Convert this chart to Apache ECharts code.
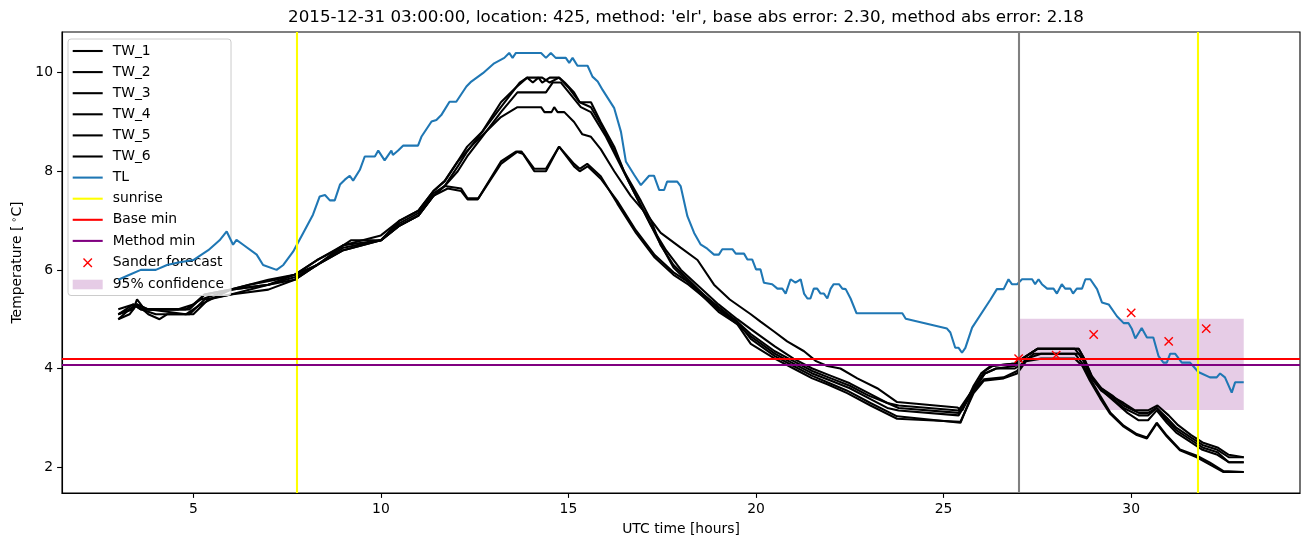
<!DOCTYPE html>
<html><head><meta charset="utf-8">
<script src="https://cdn.jsdelivr.net/npm/echarts@6/dist/echarts.min.js"></script>
<style>html,body{margin:0;padding:0;background:#fff}#c{width:1310px;height:547px}</style>
</head><body><div id="c"></div>
<script>
const chartTitle = "2015-12-31 03:00:00, location: 425, method: 'elr', base abs error: 2.30, method abs error: 2.18";
const xTicks = [5, 10, 15, 20, 25, 30];
const yTicks = [2, 4, 6, 8, 10];

const tw1 = [[3,5.0],[3.3,5.2],[3.5,5.3],[3.8,5.2],[4.8,5.2],[5.2,5.4],[6,5.6],[7,5.7],[7.7,5.9],[8.3,6.2],[8.8,6.4],[9.2,6.6],[10,6.6],[10.5,7.0],[11,7.2],[11.4,7.6],[11.7,7.8],[12.05,8.2],[12.3,8.5],[12.7,8.8],[13.2,9.3],[13.7,9.8],[13.9,9.9],[14.05,9.8],[14.2,9.9],[14.3,9.8],[14.5,9.9],[14.75,9.9],[14.9,9.8],[15.15,9.6],[15.3,9.4],[15.6,9.4],[15.86,9.0],[16.22,8.5],[16.48,8.0],[16.93,7.4],[17.2,7.0],[17.46,6.5],[17.8,6.1],[18.2,5.8],[18.6,5.5],[19.0,5.2],[19.5,4.95],[19.86,4.7],[20.5,4.35],[21.0,4.15],[21.5,3.95],[22.0,3.8],[22.5,3.65],[23.0,3.45],[23.5,3.3],[23.8,3.25],[25.4,3.15],[25.8,3.6],[26.1,3.95],[26.3,4.05],[26.9,4.1],[27.1,4.2],[27.5,4.4],[28.6,4.4],[28.75,4.2],[28.9,3.85],[29.2,3.6],[29.5,3.45],[29.8,3.25],[30.2,3.1],[30.45,3.1],[30.68,3.2],[30.95,3.0],[31.2,2.8],[31.6,2.6],[31.9,2.45],[32.3,2.35],[32.6,2.2],[33,2.2]];
const tw2 = [[3,5.1],[3.4,5.2],[3.5,5.4],[3.7,5.2],[4.9,5.2],[5.3,5.5],[6,5.6],[7,5.8],[7.7,5.9],[8.3,6.1],[9,6.5],[10,6.6],[10.5,6.9],[11,7.1],[11.4,7.5],[11.7,7.7],[12.05,8.1],[12.3,8.4],[12.7,8.8],[13.2,9.4],[13.6,9.7],[13.9,9.9],[14.3,9.9],[14.5,9.8],[14.75,9.9],[15.0,9.7],[15.3,9.4],[15.6,9.3],[15.9,8.9],[16.3,8.3],[16.6,7.8],[17.0,7.2],[17.4,6.6],[17.8,6.05],[18.2,5.75],[18.6,5.45],[19.0,5.15],[19.5,4.9],[19.86,4.65],[20.5,4.3],[21.0,4.1],[21.5,3.9],[22.0,3.75],[22.5,3.6],[23.0,3.4],[23.5,3.2],[23.8,3.15],[25.4,3.05],[25.8,3.55],[26.1,3.9],[26.4,4.0],[26.9,4.05],[27.1,4.2],[27.5,4.4],[28.5,4.4],[28.7,4.2],[28.9,3.85],[29.2,3.55],[29.5,3.4],[29.8,3.2],[30.2,3.05],[30.45,3.05],[30.68,3.2],[30.95,2.95],[31.2,2.75],[31.6,2.55],[31.9,2.4],[32.3,2.3],[32.6,2.1],[33,2.1]];
const tw3 = [[3,5.1],[3.4,5.3],[3.6,5.2],[4.0,5.1],[4.9,5.1],[5.3,5.4],[6,5.5],[7,5.7],[7.7,5.8],[8.3,6.1],[9,6.4],[10,6.6],[10.5,6.9],[11,7.1],[11.4,7.5],[11.7,7.7],[12.05,8.0],[12.3,8.3],[12.7,8.7],[13.2,9.2],[13.64,9.6],[14.4,9.6],[14.58,9.8],[14.8,9.8],[15.33,9.3],[15.6,9.2],[16.0,8.7],[16.4,8.1],[16.8,7.5],[17.2,6.9],[17.6,6.4],[18.0,6.0],[18.5,5.65],[19.0,5.3],[19.5,5.0],[19.86,4.8],[20.5,4.45],[21.0,4.2],[21.5,4.0],[22.0,3.85],[22.5,3.7],[23.0,3.5],[23.5,3.3],[23.8,3.2],[25.4,3.1],[25.8,3.6],[26.1,3.9],[26.4,4.0],[26.9,4.0],[27.1,4.1],[27.4,4.3],[28.6,4.3],[28.8,4.1],[29.0,3.75],[29.3,3.5],[29.6,3.3],[29.9,3.1],[30.2,2.95],[30.45,2.95],[30.68,3.15],[30.95,2.9],[31.2,2.7],[31.6,2.5],[31.9,2.35],[32.3,2.25],[32.6,2.1],[33,2.1]];
const tw4 = [[3,5.2],[3.4,5.3],[3.6,5.2],[4.6,5.2],[5.0,5.3],[5.3,5.5],[6,5.6],[6.5,5.7],[7.2,5.8],[7.7,5.9],[8.3,6.2],[9,6.5],[10,6.7],[10.5,7.0],[11,7.2],[11.4,7.6],[11.7,7.8],[12.05,8.2],[12.4,8.5],[12.8,8.8],[13.2,9.1],[13.64,9.3],[14.27,9.3],[14.36,9.2],[14.55,9.2],[14.62,9.3],[14.71,9.2],[14.89,9.2],[15.15,9.0],[15.37,8.75],[15.6,8.7],[15.86,8.45],[16.22,8.0],[16.66,7.5],[17.11,7.1],[17.46,6.75],[17.99,6.45],[18.44,6.2],[18.88,5.7],[19.3,5.4],[19.86,5.1],[20.12,4.95],[20.48,4.75],[20.83,4.55],[21.28,4.35],[21.6,4.15],[21.9,4.05],[22.25,4.0],[22.7,3.8],[23.23,3.6],[23.76,3.32],[25.36,3.21],[25.5,3.15],[25.8,3.65],[26.0,3.9],[26.25,4.05],[26.9,4.1],[27.1,4.2],[27.5,4.4],[28.6,4.4],[28.75,4.2],[28.95,3.85],[29.2,3.6],[29.45,3.45],[29.8,3.3],[30.1,3.15],[30.45,3.15],[30.7,3.25],[31.0,3.05],[31.25,2.85],[31.6,2.65],[31.9,2.5],[32.3,2.4],[32.6,2.25],[33,2.2]];
const tw5 = [[3,5.0],[3.3,5.1],[3.5,5.3],[3.8,5.1],[4.1,5.0],[4.3,5.1],[5.0,5.1],[5.4,5.4],[6,5.5],[7,5.6],[7.7,5.8],[8.3,6.1],[9,6.4],[10,6.6],[10.5,6.9],[11,7.1],[11.4,7.5],[11.78,7.65],[12.14,7.6],[12.31,7.43],[12.58,7.43],[13.2,8.15],[13.64,8.4],[13.75,8.4],[14.09,8.0],[14.4,8.0],[14.75,8.5],[15.15,8.1],[15.3,8.0],[15.51,8.1],[15.86,7.85],[16.3,7.4],[16.8,6.8],[17.3,6.3],[17.8,5.95],[18.2,5.75],[18.6,5.5],[19.0,5.25],[19.5,4.95],[19.86,4.6],[20.5,4.25],[21.0,4.05],[21.5,3.85],[21.9,3.72],[22.43,3.55],[23.05,3.3],[23.76,3.03],[25.45,2.9],[25.8,3.55],[26.07,3.78],[26.6,3.82],[26.96,3.95],[27.2,4.2],[27.6,4.3],[28.5,4.3],[28.7,4.1],[28.9,3.8],[29.17,3.45],[29.44,3.11],[29.8,2.84],[30.15,2.67],[30.42,2.6],[30.68,2.9],[30.95,2.64],[31.3,2.36],[31.75,2.23],[32.1,2.09],[32.46,1.92],[33,1.9]];
const tw6 = [[3,5.1],[3.3,5.2],[3.5,5.3],[3.8,5.2],[4.8,5.1],[5.2,5.3],[6,5.6],[7,5.7],[7.7,5.85],[8.3,6.1],[9,6.45],[10,6.6],[10.5,6.95],[11,7.15],[11.4,7.55],[11.7,7.7],[12.14,7.65],[12.31,7.45],[12.6,7.45],[13.2,8.2],[13.6,8.4],[13.8,8.35],[14.09,8.05],[14.4,8.05],[14.75,8.5],[15.15,8.15],[15.3,8.05],[15.5,8.15],[15.86,7.9],[16.3,7.35],[16.8,6.75],[17.3,6.25],[17.8,5.9],[18.2,5.7],[18.6,5.45],[19.0,5.2],[19.5,4.9],[19.86,4.5],[20.5,4.2],[21.0,4.0],[21.5,3.8],[21.9,3.68],[22.43,3.5],[23.05,3.25],[23.76,2.98],[25.45,2.92],[25.8,3.5],[26.07,3.75],[26.6,3.8],[26.96,3.9],[27.2,4.15],[27.6,4.2],[28.5,4.2],[28.7,4.05],[28.9,3.75],[29.17,3.4],[29.44,3.08],[29.8,2.82],[30.15,2.65],[30.42,2.58],[30.68,2.88],[30.95,2.62],[31.3,2.34],[31.75,2.2],[32.1,2.05],[32.46,1.9],[33,1.9]];
const tl = [[3,5.8],[3.3,5.9],[3.6,6.0],[4.0,6.0],[4.3,6.1],[4.6,6.15],[5.0,6.2],[5.4,6.4],[5.7,6.6],[5.89,6.78],[6.06,6.51],[6.15,6.61],[6.33,6.51],[6.69,6.31],[6.86,6.1],[7.22,6.0],[7.40,6.1],[7.66,6.37],[7.93,6.75],[8.19,7.12],[8.37,7.49],[8.51,7.52],[8.64,7.41],[8.77,7.41],[8.91,7.73],[9.04,7.83],[9.17,7.91],[9.26,7.81],[9.44,8.03],[9.57,8.30],[9.84,8.30],[9.93,8.42],[10.10,8.22],[10.28,8.42],[10.32,8.33],[10.46,8.42],[10.59,8.52],[10.99,8.52],[11.08,8.70],[11.35,9.01],[11.48,9.04],[11.61,9.14],[11.83,9.41],[12.01,9.41],[12.28,9.72],[12.41,9.82],[12.72,9.99],[13.02,10.19],[13.29,10.3],[13.42,10.4],[13.51,10.3],[13.60,10.4],[14.27,10.4],[14.40,10.3],[14.53,10.4],[14.66,10.3],[14.93,10.3],[15.02,10.2],[15.11,10.3],[15.24,10.14],[15.51,10.14],[15.64,9.92],[15.78,9.82],[15.91,9.65],[16.22,9.28],[16.40,8.80],[16.53,8.20],[16.75,7.93],[16.93,7.72],[17.15,7.91],[17.28,7.91],[17.42,7.62],[17.55,7.62],[17.63,7.79],[17.90,7.79],[17.99,7.7],[18.17,7.09],[18.35,6.75],[18.52,6.52],[18.70,6.43],[18.88,6.31],[19.01,6.31],[19.10,6.42],[19.37,6.42],[19.46,6.33],[19.68,6.33],[19.77,6.21],[19.9,6.21],[20.0,6.01],[20.12,6.01],[20.21,5.74],[20.43,5.71],[20.57,5.62],[20.70,5.62],[20.79,5.52],[20.92,5.81],[21.05,5.74],[21.19,5.81],[21.28,5.52],[21.37,5.42],[21.45,5.42],[21.54,5.62],[21.63,5.62],[21.72,5.52],[21.81,5.52],[21.90,5.42],[21.99,5.62],[22.07,5.71],[22.21,5.71],[22.30,5.62],[22.39,5.61],[22.52,5.42],[22.68,5.12],[23.90,5.12],[23.99,5.01],[25.09,4.81],[25.18,4.73],[25.31,4.42],[25.40,4.42],[25.49,4.32],[25.58,4.42],[25.76,4.83],[26.25,5.40],[26.42,5.61],[26.60,5.61],[26.73,5.81],[26.82,5.71],[26.96,5.71],[27.09,5.81],[27.36,5.81],[27.44,5.71],[27.53,5.81],[27.62,5.71],[27.76,5.62],[27.93,5.62],[28.02,5.52],[28.15,5.71],[28.24,5.62],[28.38,5.62],[28.45,5.52],[28.55,5.62],[28.69,5.62],[28.78,5.81],[28.91,5.81],[29.09,5.61],[29.22,5.34],[29.40,5.30],[29.62,5.06],[29.80,4.92],[29.93,4.92],[30.02,4.80],[30.11,4.61],[30.28,4.82],[30.42,4.63],[30.59,4.63],[30.73,4.25],[30.86,4.12],[30.95,4.12],[31.04,4.30],[31.17,4.30],[31.35,4.12],[31.57,4.12],[31.79,3.93],[32.10,3.82],[32.28,3.82],[32.37,3.90],[32.50,3.82],[32.68,3.51],[32.77,3.72],[33,3.72]];

const sanderHours = [27, 28, 29, 30, 31, 32];
const sanderTemps = [4.2, 4.27, 4.69, 5.13, 4.55, 4.81];
const sunriseHours = [7.77, 31.78];
const forecastHour = 27;
const baseMin = 4.2;
const methodMin = 4.08;
const confHours = [27, 33];
const confTemps = [3.16, 5.01];

const FONT = 'DejaVu Sans';
const LW = 2.08;
const twSeries = [tw1, tw2, tw3, tw4, tw5, tw6].map((d, i) => ({
  name: 'TW_' + (i + 1), type: 'line', data: d, showSymbol: false, z: 3,
  lineStyle: { color: '#000000', width: LW }, itemStyle: { color: '#000000' }
}));

const lineIcon = 'path://M0,0 M35,14 M0,5.96 L30,5.96 L30,8.04 L0,8.04 Z';
const xIcon = 'path://M0,0 M35,14 M10.8,2.8 L19.2,11.2 M19.2,2.8 L10.8,11.2';
const patchIcon = 'path://M0,0 M35,14 M0,2.2 L30,2.2 L30,11.8 L0,11.8 Z';
function lineLegend(name, color) {
  return { name, icon: lineIcon, itemStyle: { color, borderWidth: 0 } };
}
function vline(color, values, key) {
  return { silent: true, symbol: ['none', 'none'], label: { show: false },
    lineStyle: { color, width: LW, type: 'solid' },
    data: values.map(v => ({ [key]: v })) };
}

const chart = echarts.init(document.getElementById('c'));
chart.setOption({
  animation: false,
  backgroundColor: '#ffffff',
  title: {
    text: chartTitle, left: 681, top: 4, textAlign: 'center',
    textStyle: { fontFamily: FONT, fontSize: 16.7, fontWeight: 'normal', color: '#000' }
  },
  grid: { left: 62, right: 10, top: 32, bottom: 54, show: true, borderColor: '#000', borderWidth: 1.1, backgroundColor: 'transparent' },
  legend: {
    orient: 'vertical', left: 68, top: 39,
    padding: [5, 7, 4, 4], itemGap: 7.1, itemWidth: 35, itemHeight: 14,
    backgroundColor: 'rgba(255,255,255,0.8)', borderColor: '#cccccc', borderWidth: 1, borderRadius: 3,
    textStyle: { fontFamily: FONT, fontSize: 13.9, color: '#000' },
    selectedMode: false,
    data: [
      lineLegend('TW_1', '#000'), lineLegend('TW_2', '#000'), lineLegend('TW_3', '#000'),
      lineLegend('TW_4', '#000'), lineLegend('TW_5', '#000'), lineLegend('TW_6', '#000'),
      lineLegend('TL', '#1f77b4'), lineLegend('sunrise', '#ffff00'),
      lineLegend('Base min', '#ff0000'), lineLegend('Method min', '#800080'),
      { name: 'Sander forecast', icon: xIcon, itemStyle: { color: '#ff0000', borderColor: '#ff0000', borderWidth: 1.4 } },
      { name: '95% confidence', icon: patchIcon, itemStyle: { color: 'rgba(128,0,128,0.2)', borderWidth: 0 } }
    ]
  },
  xAxis: {
    type: 'value', min: 1.5, max: 34.5,
    name: 'UTC time [hours]', nameLocation: 'middle', nameGap: 29,
    nameTextStyle: { fontFamily: FONT, fontSize: 13.9, color: '#000' },
    axisLine: { show: true, onZero: false, lineStyle: { color: '#000', width: 1.1 } },
    axisTick: { show: true, length: 4.9, lineStyle: { color: '#000', width: 1.1 }, customValues: xTicks },
    axisLabel: { fontFamily: FONT, fontSize: 13.9, color: '#000', margin: 9, customValues: xTicks },
    splitLine: { show: false }
  },
  yAxis: {
    type: 'value', min: 1.475, max: 10.825,
    name: 'Temperature [{s|∘}C]', nameLocation: 'middle', nameGap: 37, nameRotate: 90,
    nameTextStyle: { fontFamily: FONT, fontSize: 13.9, color: '#000',
      rich: { s: { fontFamily: FONT, fontSize: 9.7, color: '#000', padding: [0, 0, 6, 3] } } },
    axisLine: { show: true, onZero: false, lineStyle: { color: '#000', width: 1.1 } },
    axisTick: { show: true, length: 4.9, lineStyle: { color: '#000', width: 1.1 }, customValues: yTicks },
    axisLabel: { fontFamily: FONT, fontSize: 13.9, color: '#000', margin: 9, customValues: yTicks },
    splitLine: { show: false }
  },
  series: [
    ...twSeries,
    { name: 'TL', type: 'line', data: tl, showSymbol: false, z: 4,
      lineStyle: { color: '#1f77b4', width: LW }, itemStyle: { color: '#1f77b4' } },
    { name: 'sunrise', type: 'line', data: [], z: 5, markLine: vline('#ffff00', sunriseHours, 'xAxis') },
    { name: 'Base min', type: 'line', data: [], z: 5, markLine: vline('#ff0000', [baseMin], 'yAxis') },
    { name: 'Method min', type: 'line', data: [], z: 5, markLine: vline('#800080', [methodMin], 'yAxis') },
    { name: 'Sander forecast', type: 'scatter', z: 6,
      data: sanderHours.map((h, i) => [h, sanderTemps[i]]),
      symbol: 'path://M0,0 L10,10 M10,0 L0,10', symbolSize: 8.3,
      itemStyle: { color: '#ff0000', borderColor: '#ff0000', borderWidth: 1.4, opacity: 1 } },
    { name: '95% confidence', type: 'line', data: [], z: 1,
      markArea: { silent: true, itemStyle: { color: 'rgba(128,0,128,0.2)' },
        data: [[{ xAxis: confHours[0], yAxis: confTemps[0] }, { xAxis: confHours[1], yAxis: confTemps[1] }]] } },
    { name: 'forecast time', type: 'line', data: [], z: 5, markLine: vline('#808080', [forecastHour], 'xAxis') }
  ]
});
</script>
</body></html>
